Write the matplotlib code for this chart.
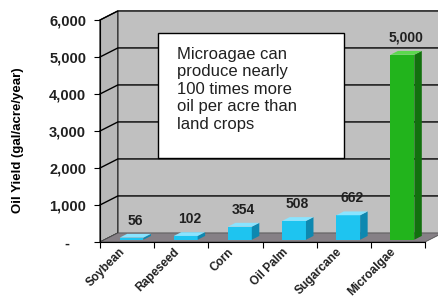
import matplotlib.pyplot as plt
from matplotlib.patches import Polygon, Rectangle
from matplotlib.transforms import ScaledTranslation

# DATA
crops = ['Soybean', 'Rapeseed', 'Corn', 'Oil Palm', 'Sugarcane', 'Microalgae']
yields = [56, 102, 354, 508, 662, 5000]
yticks = [0, 1000, 2000, 3000, 4000, 5000, 6000]
ytick_labels = ['-    ', '1,000', '2,000', '3,000', '4,000', '5,000', '6,000']
note = 'Microagae can\nproduce nearly\n100 times more\noil per acre than\nland crops'

plt.rcParams['font.family'] = ['Liberation Sans', 'DejaVu Sans']

# STYLE
WALL, SIDE, FLOOR = '#c0c0c0', '#b8b8b8', '#868086'
CYAN = ('#1ec4f0', '#0e88b0', '#8ae4ff')
GREEN = ('#22b41c', '#12700e', '#5cd84e')
DX, DY = 0.33, 245      # depth offset of back wall (data units)
W, F0, D = 0.44, 0.25, 0.42  # bar width, front depth frac, bar depth frac

fig = plt.figure(figsize=(4.38, 3.04), dpi=100)
ax = fig.add_axes([100/438, 62/304, 325/438, 222/304])
ax.set_xlim(0, 6)
ax.set_ylim(0, 6000)
ax.patch.set_visible(False)
for s in ('top', 'right'):
    ax.spines[s].set_visible(False)
ax.spines['left'].set_zorder(6)
ax.spines['bottom'].set_zorder(6)

n = len(crops)
# walls and floor
ax.add_patch(Polygon([(DX, DY), (n+DX, DY), (n+DX, 6000+DY), (DX, 6000+DY)],
                     fc=WALL, ec='none', clip_on=False, zorder=0))
ax.add_patch(Polygon([(0, 0), (DX, DY), (DX, 6000+DY), (0, 6000)],
                     fc=SIDE, ec='black', lw=0.8, clip_on=False, zorder=0.5))
for v in yticks[1:]:
    ax.plot([0, DX, n+DX], [v, v+DY, v+DY], color='black', lw=1, clip_on=False, zorder=1)
ax.add_patch(Polygon([(0, 0), (n, 0), (n+DX, DY), (DX, DY)],
                     fc=FLOOR, ec='#505050', lw=0.6, clip_on=False, zorder=2))

# bars
xc = [i + 0.5 for i in range(n)]
for i, (x, v) in enumerate(zip(xc, yields)):
    front, side, top = GREEN if crops[i] == 'Microalgae' else CYAN
    x0, y0 = x - W/2 + F0*DX, F0*DY
    ax.bar(x + F0*DX, v, width=W, bottom=y0, color=front, zorder=3, clip_on=False)
    ax.add_patch(Polygon([(x0+W, y0), (x0+W+D*DX, y0+D*DY), (x0+W+D*DX, y0+v+D*DY), (x0+W, y0+v)],
                         fc=side, ec='none', zorder=3, clip_on=False))
    ax.add_patch(Polygon([(x0, y0+v), (x0+W, y0+v), (x0+W+D*DX, y0+v+D*DY), (x0+D*DX, y0+v+D*DY)],
                         fc=top, ec='none', zorder=3, clip_on=False))
    ax.text(x + 0.45*DX, v + DY + 90, f'{v:,}', ha='center', va='bottom',
            fontsize=10, fontweight='bold', color='#202020', zorder=5)

# axes ticks
ax.set_yticks(yticks)
ax.set_yticklabels(ytick_labels, fontsize=10.5, fontweight='bold', color='#202020')
ax.tick_params(axis='y', length=4, width=0.8, pad=6)
ax.set_xticks(range(n+1))
ax.set_xticklabels([])
ax.tick_params(axis='x', which='major', length=4, width=0.8, direction='out')
ax.set_xticks(xc, minor=True)
ax.set_xticklabels(crops, minor=True, rotation=45, ha='right', va='top', rotation_mode='anchor',
                   fontsize=8.5, fontweight='bold', color='#202020')
ax.tick_params(axis='x', which='minor', length=0, pad=3)
shift = ScaledTranslation(-0.08, 0.0, fig.dpi_scale_trans)
for lab in ax.get_xticklabels(minor=True):
    lab.set_transform(lab.get_transform() + shift)
ax.set_ylabel('Oil Yield (gal/acre/year)', fontsize=9.5, fontweight='bold')
ax.yaxis.set_label_coords(-0.235, 0.46)

# note box
fig.patches.append(Rectangle((158/438, 1-158/304), 186/438, 125/304, transform=fig.transFigure,
                             fc='white', ec='black', lw=1, zorder=10))
fig.text(177/438, 1-47/304, note, ha='left', va='top', fontsize=12, linespacing=1.2,
         color='#202020', zorder=11)

fig.savefig('out.png', dpi=100)
